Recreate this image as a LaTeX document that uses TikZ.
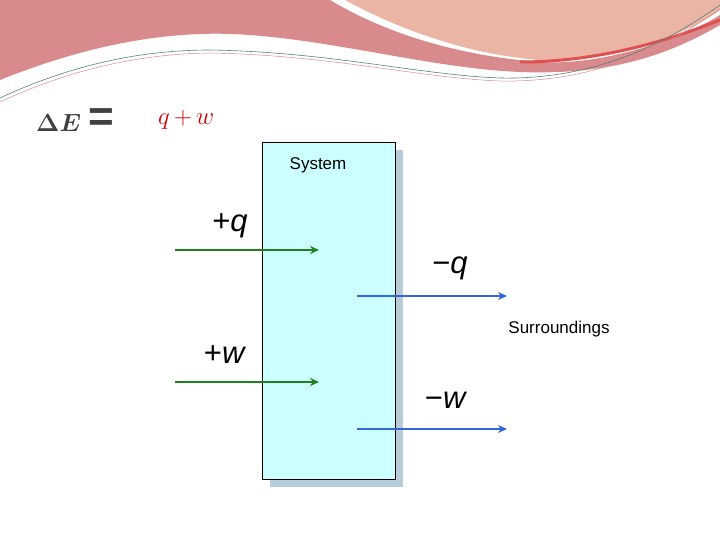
\documentclass[tikz,border=0pt]{standalone}
\usepackage{amsmath}
\usepackage{fontspec}
\setsansfont{Liberation Sans}
\usetikzlibrary{arrows.meta}
\definecolor{boxfill}{HTML}{CCFFFF}
\definecolor{shadowc}{HTML}{B8CCD8}
\definecolor{greenarr}{HTML}{208020}
\definecolor{bluearr}{HTML}{3366DD}
\definecolor{pinkA}{HTML}{D98A8C}
\definecolor{peach}{HTML}{EBB5A5}
\definecolor{redline}{HTML}{E05050}
\definecolor{eqgray}{HTML}{404040}
\definecolor{eqred}{HTML}{D00000}
\tikzset{
  garr/.style={draw=greenarr, line width=2.6pt, -{Stealth[length=9pt,width=8pt]}},
  barr/.style={draw=bluearr, line width=2.6pt, -{Stealth[length=9pt,width=8pt]}},
  lbl/.style={font=\sffamily\fontsize{31}{33}\selectfont},
  small/.style={font=\sffamily\fontsize{17}{19}\selectfont}
}
\begin{document}
\begin{tikzpicture}[x=1pt,y=-1pt]
\useasboundingbox (0,0) rectangle (720,540);
% top decoration
\fill[pinkA] (0,0) -- (330,0) .. controls (380,30) and (450,55) .. (540,62) .. controls (600,66) and (680,40) .. (720,15) -- (720,25) .. controls (660,60) and (600,75) .. (520,72) .. controls (420,68) and (300,30) .. (200,34) .. controls (120,37) and (50,60) .. (0,80) -- cycle;
\fill[peach] (345,0) -- (720,0) -- (720,10) .. controls (680,40) and (600,62) .. (540,60) .. controls (470,55) and (400,30) .. (345,0) -- cycle;
\draw[redline, line width=3pt] (520,62) .. controls (600,62) and (670,40) .. (720,20);
\draw[gray!70!teal, line width=0.6pt] (0,98) .. controls (60,70) and (130,50) .. (210,50) .. controls (330,52) and (420,75) .. (500,78) .. controls (600,80) and (670,40) .. (720,5);
\draw[pinkA, line width=0.5pt] (0,102) .. controls (60,74) and (130,54) .. (210,53) .. controls (330,55) and (420,78) .. (500,81) .. controls (600,83) and (670,44) .. (720,9);
% equation
\node[anchor=west, text=eqgray, font=\fontsize{44}{46}\selectfont\bfseries\sffamily, inner sep=0pt] (lhs) at (36,120) {$\boldsymbol{\Delta E}$\,=};
\node[anchor=west, text=eqred, font=\fontsize{46}{48}\selectfont, inner sep=0pt] (rhs) at (158,120) {$q\,{+}\,w$};
% system box
\fill[shadowc] (270,150) rectangle (403,487);
\node[draw=black, fill=boxfill, minimum width=133pt, minimum height=337pt, inner sep=0pt, anchor=north west] (sys) at (262,142) {};
\node[small] (syslbl) at (318,165) {System};
\node[small] (surr) at (559,329) {Surroundings};
% arrows
\coordinate (q1) at (175,250); \coordinate (q2) at (319,250);
\coordinate (w1) at (175,382); \coordinate (w2) at (319,382);
\coordinate (mq1) at (357,296); \coordinate (mq2) at (507,296);
\coordinate (mw1) at (357,429); \coordinate (mw2) at (507,429);
\draw[garr] (q1) -- (q2);
\draw[garr] (w1) -- (w2);
\draw[barr] (mq1) -- (mq2);
\draw[barr] (mw1) -- (mw2);
\node[lbl] (lq) at (230,226) {+\textit{q}};
\node[lbl] (lw) at (225,355) {+\textit{w}};
\node[lbl] (lmq) at (450,268) {\textminus\textit{q}};
\node[lbl] (lmw) at (446,400) {\textminus\textit{w}};
\end{tikzpicture}
\end{document}
